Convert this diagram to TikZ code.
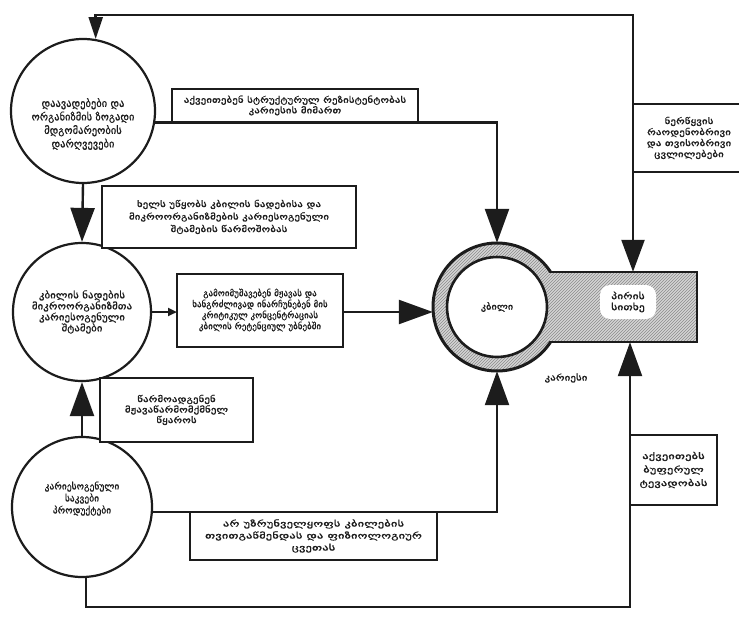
\documentclass[tikz,border=0pt]{standalone}
\usepackage{fontspec}
\setmainfont{DejaVu Sans}[FakeBold=0.4]
\newfontfamily\midface{DejaVu Sans}[FakeStretch=1.15,FakeBold=0.4]
\newfontfamily\wideface{DejaVu Sans}[FakeStretch=1.3,FakeBold=0.4]
\newfontfamily\widerface{DejaVu Sans}[FakeStretch=1.5,FakeBold=0.4]
\usepackage{tikz}
\usetikzlibrary{arrows.meta,patterns}
\definecolor{inkish}{HTML}{1C1C1C}
\definecolor{greyish}{HTML}{D4D4D4}
\definecolor{hatchish}{HTML}{8C8C8C}
\newcommand{\geosize}[2]{\fontsize{#1}{#2}\selectfont}

\begin{document}
\begin{tikzpicture}[
   x=1pt, y=-1pt,
   every node/.append style={align=center, text=inkish},
   bubble/.style={circle, draw=inkish, line width=2.2pt, fill=white, inner sep=0pt},
   note/.style={rectangle, draw=inkish, line width=2pt, fill=white, inner sep=2pt},
   link/.style={draw=inkish, line width=2.4pt},
   bigtip/.style={-{Triangle[length=34pt,width=24pt]}},
   smalltip/.style={-{Triangle[length=9pt,width=8pt]}},
   hatched/.style={fill=greyish, postaction={pattern=north east lines, pattern color=hatchish}}
]
\useasboundingbox (0,0) rectangle (739,623);
\fill[white] (0,0) rectangle (739,623);

% the three factors
\node[bubble, minimum size=144pt] (disease) at (83,111) {};
\node[font=\geosize{10.5}{13.5}] (diseasetext) at (83,124)
   {დაავადებები და\\ორგანიზმის ზოგადი\\მდგომარეობის\\დარღვევები};
\node[bubble, minimum size=138pt, font=\midface\geosize{9.5}{11}] (strains) at (82,312)
   {კბილის ნადების\\მიკროორგანიზმთა\\კარიესოგენული\\შტამები};
\node[bubble, minimum size=140pt, font=\geosize{9.5}{12}] (diet) at (82,507)
   {კარიესოგენული\\საკვები\\პროდუქტები\\[7pt]};

% tooth in the oral fluid
\coordinate (toothc) at (497,307);
\fill[hatched] (toothc) circle (64);
\fill[hatched] (545,272) rectangle (697,342);
\draw[draw=inkish, line width=3pt] (toothc) ++(33:64) arc (33:327:64);
\draw[draw=inkish, line width=2.4pt] (550,272) -- (697,272) -- (697,342) -- (550,342);
\filldraw[fill=white, draw=inkish, line width=2.6pt] (toothc) circle (50);
\node[circle, minimum size=128pt, font=\midface\geosize{9}{11}] (tooth) at (toothc) {კბილი};
\node[minimum width=152pt, minimum height=70pt] (fluid) at (621,307) {};
\node[fill=white, rounded corners=10pt, minimum width=56pt, minimum height=34pt,
   inner sep=2pt, font=\wideface\geosize{9}{11}] (fluidname) at (628,302) {პირის\\სითხე};
\node[font=\wideface\geosize{8.5}{10.5}] (caries) at (566,378) {კარიესი};

\coordinate (topright) at (633,15);
\coordinate (botright) at (630,607);

% connectors
\draw[link, {Triangle[length=22pt,width=14pt]}-{Triangle[length=32pt,width=23pt]}]
   (disease.80) |- (topright) -- (topright |- fluid.north);
\draw[link, bigtip] (disease.-9) -- (disease.-9 -| tooth.north) -- (tooth.north);
\draw[link, bigtip] (disease.south) -- (strains.north);
\draw[link, smalltip] (strains.east) -- (strains.east -| 177,0);
\draw[link, bigtip] (strains.east -| 343,0) -- (strains.east -| tooth.west);
\draw[link, bigtip] (diet.north) -- (strains.south);
\draw[link, bigtip] (diet.-4) -- (diet.-4 -| tooth.south) -- (tooth.south);
\draw[link, bigtip] (diet.-87) |- (botright) -- (botright |- fluid.south);

% what each link does
\node[note, minimum width=246pt, minimum height=33pt, font=\wideface\geosize{8.5}{10.5}] (resist) at (295,105.5)
   {აქვეითებენ სტრუქტურულ რეზისტენტობას\\კარიესის მიმართ};
\node[note, minimum width=254pt, minimum height=62pt, font=\wideface\geosize{8.5}{12.5}] (spread) at (229,217)
   {ხელს უწყობს კბილის ნადებისა და\\მიკროორგანიზმების კარიესოგენული\\შტამების წარმოშობას};
\node[note, minimum width=166pt, minimum height=73pt, font=\geosize{9}{11}] (acid) at (260,310)
   {გამოიმუშავებენ მჟავას და\\ხანგრძლივად ინარჩუნებენ მის\\კრიტიკულ კონცენტრაციას\\კბილის რეტენციულ უბნებში};
\node[note, minimum width=153pt, minimum height=64pt, font=\wideface\geosize{8.5}{10.5}] (source) at (176.5,410)
   {წარმოადგენენ\\მჟავაწარმომქმნელ\\წყაროს};
\node[note, minimum width=247pt, minimum height=48pt, font=\widerface\geosize{8.5}{12}] (clean) at (313.5,536)
   {არ უზრუნველყოფს კბილების\\თვითგაწმენდას და ფიზიოლოგიურ\\ცვეთას};
\node[note, minimum width=112pt, minimum height=68pt, font=\wideface\geosize{8.5}{11}] (saliva) at (689,138)
   {ნერწყვის\\რაოდენობრივი\\და თვისობრივი\\ცვლილებები};
\node[note, minimum width=87pt, minimum height=70pt, font=\widerface\geosize{8.5}{13.5}] (buffer) at (673.5,470)
   {აქვეითებს\\ბუფერულ\\ტევადობას};
\end{tikzpicture}
\end{document}
